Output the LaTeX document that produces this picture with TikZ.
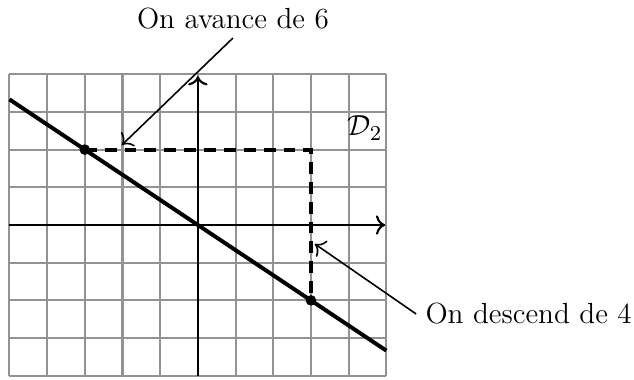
\documentclass[tikz,border=0pt]{standalone}
\usepackage{amsmath,amssymb}
\usepackage{fontspec}
\usetikzlibrary{arrows.meta}

\begin{document}
\begin{tikzpicture}[x=0.5cm, y=0.5cm, every node/.style={font=\fontsize{11}{13}\selectfont}, pt/.style={circle, fill, inner sep=0pt, minimum size=4pt}, fleche/.style={-{To[length=3.5pt]}, line width=0.6pt}]
	\useasboundingbox (-5.25,-4.085) rectangle (11.57,5.97);
	\draw[gray!85, line width=0.8pt, step=0.5cm] (-5,-4) grid (5,4);
	\coordinate (xmin) at (-5,0);
	\coordinate (xmax) at (4.97,0);
	\coordinate (ymin) at (0,-4);
	\coordinate (ymax) at (0,3.95);
	\draw[fleche, line width=0.8pt] (xmin) -- (xmax);
	\draw[fleche, line width=0.8pt] (ymin) -- (ymax);
	\coordinate (dA) at (-5,10/3);
	\coordinate (dB) at (5,-10/3);
	\draw[line width=1.5pt] (dA) -- (dB);
	\node[pt] (P) at (-3,2) {};
	\node[pt] (Q) at (3,-2) {};
	\coordinate (R) at (3,2);
	\draw[line width=1.5pt, dash pattern=on 4.5pt off 3pt] (P.center) -- (R) -- (Q.center);
	\node (D) at (4.43,2.57) {$\mathcal{D}_2$};
	\node (txtA) at (0.93,5.49) {On avance de 6};
	\coordinate (toA) at (-2.02,2.12);
	\draw[fleche] (txtA.south) -- (toA);
	\node[anchor=west] (txtB) at (5.79,-2.36) {On descend de 4};
	\coordinate (toB) at (3.1,-0.5);
	\draw[fleche] (txtB.west) -- (toB);
\end{tikzpicture}
\end{document}
